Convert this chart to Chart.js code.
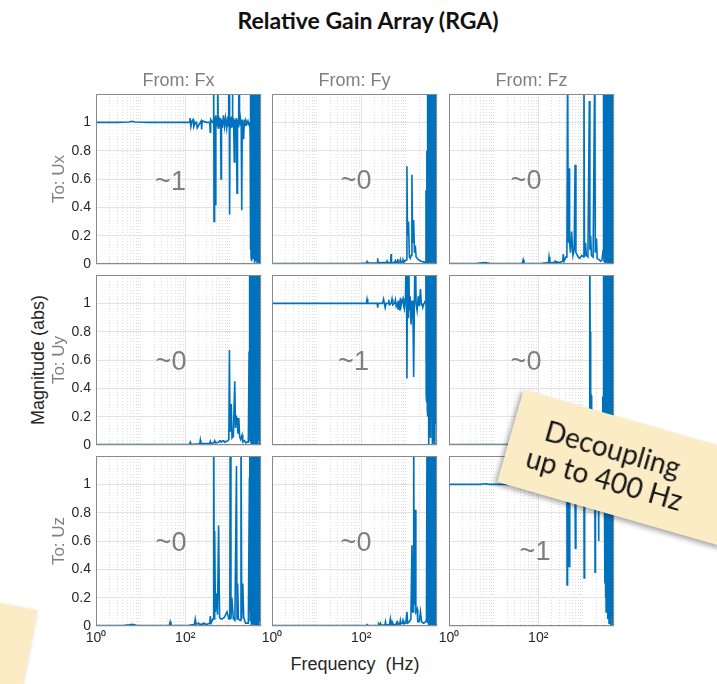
<!DOCTYPE html>
<html>
<head>
<meta charset="utf-8">
<script src="https://cdn.jsdelivr.net/npm/chart.js"></script>
<style>
  html, body { margin: 0; padding: 0; background: #fff; overflow: hidden; }
  #wrap { position: relative; width: 717px; height: 684px; overflow: hidden; background: #fff; }
  #wrap canvas { position: absolute; }
  .txt { position: absolute; text-align: center; white-space: pre; font-family: "Liberation Sans", Arial, sans-serif; }
  .title { left: 118px; width: 500px; top: 6px; font: bold 23px Lato, sans-serif; line-height: 28px; color: #111; }
  .from { top: 70px; width: 120px; font-size: 18px; line-height: 20px; color: #7f7f7f; }
  .to { width: 120px; height: 20px; font-size: 17px; line-height: 20px; color: #7f7f7f; transform: rotate(-90deg); }
  .ylab { left: -62px; top: 350px; width: 200px; height: 20px; font-size: 18px; line-height: 20px; color: #262626; transform: rotate(-90deg); }
  .xlab { left: 255px; width: 200px; top: 654px; font-size: 18px; line-height: 20px; color: #262626; }
  .note { position: absolute; background: #fcecc6; box-shadow: -2px 3px 5px rgba(0,0,0,0.35);
          display: flex; align-items: center; justify-content: center; font-family: Lato, sans-serif; color: #151515; }
</style>
</head>
<body>
<div id="wrap">
  <div class="txt title">Relative Gain Array (RGA)</div>
  <div class="txt ylab">Magnitude (abs)</div>
  <div class="txt xlab">Frequency  (Hz)</div>
</div>
<script>
// frequency (Hz), magnitude pairs
const fxUx = [
  [1,1.0],[3,1.0],[5.5,1.002],[6.4,1.007],[7.5,1.002],[15,1.0],[40,1.0],[100,1.0],[122,1.0],[128,1.03],
  [134,0.97],[142,1.01],[150,1.02],[156,0.97],[170,1.0],[180,1.0],[186,0.96],[228,1.01],[234,0.95],[240,1.01],
  [300,1.0],[355,1.0],[364,0.93],[372,1.02],[410,1.0],[428,1.01],[435,1.5],[442,0.3],[450,1.04],[462,0.97],
  [474,0.42],[486,1.05],[500,0.97],[520,1.03],[535,1.5],[548,0.96],[565,1.04],[590,0.97],[620,1.03],[635,0.6],
  [650,1.02],[680,0.96],[720,1.05],[760,0.97],[800,1.03],[850,0.96],[900,1.04],[940,0.97],[960,1.5],[990,0.35],
  [1010,1.03],[1050,0.96],[1090,1.04],[1120,0.97],[1140,1.5],[1170,0.98],[1210,1.03],[1260,0.72],[1300,1.02],[1350,0.97],
  [1400,1.03],[1450,0.5],[1490,1.02],[1540,0.97],[1580,1.03],[1610,1.5],[1650,0.98],[1720,1.03],[1800,0.97],[1850,0.38],
  [1900,1.02],[1980,0.97],[2040,0.88],[2120,1.02],[2200,0.98],[2300,1.01],[2420,0.99],[2550,1.01],[2700,0.98],[2800,1.0],
  [2860,0.9],[2880,0.1],[2900,1.5],[2930,0.3],[2960,1.5],[2990,0.05],[3020,1.5],[3060,0.2],[3100,1.5],[3140,0.02],
  [3180,1.5],[3230,0.15],[3280,1.5],[3330,0.04],[3380,1.5],[3440,0.1],[3500,1.5],[3560,0.0],[3620,1.5],[3680,0.08],
  [3740,1.5],[3810,0.02],[3880,1.5],[3950,0.12],[4020,1.5],[4100,0.0],[4180,1.5],[4260,0.05],[4340,1.5],[4430,0.0],
  [4520,1.5],[4610,0.06],[4700,1.5],[4800,0.0],[4900,1.5],[5000,0.02]
];
const fyUx = [
  [1,0.004],[20,0.004],[100,0.005],[130,0.006],[135,0.018],[140,0.006],[200,0.006],[228,0.008],[234,0.04],[240,0.008],
  [300,0.01],[370,0.01],[380,0.02],[390,0.008],[455,0.01],[466,0.07],[476,0.01],[560,0.012],[585,0.025],[610,0.01],
  [650,0.015],[660,0.035],[680,0.012],[740,0.015],[755,0.03],[780,0.012],[850,0.015],[865,0.03],[900,0.015],[1040,0.03],
  [1060,0.69],[1090,0.2],[1150,0.3],[1200,0.05],[1260,0.04],[1310,0.06],[1370,0.63],[1420,0.15],[1500,0.31],[1560,0.08],
  [1630,0.13],[1700,0.05],[1790,0.04],[1940,0.03],[2180,0.02],[2500,0.015],[2800,0.01],[2830,0.52],[2900,0.05],[2960,0.8],
  [3000,0.02],[3030,1.5],[3060,0.05],[3100,1.5],[3140,0.01],[3180,1.5],[3230,0.08],[3280,1.5],[3330,0.0],[3380,1.5],
  [3440,0.04],[3500,1.5],[3560,0.01],[3620,1.5],[3690,0.06],[3760,1.5],[3830,0.0],[3900,1.5],[3980,0.03],[4060,1.5],
  [4140,0.0],[4220,1.5],[4310,0.05],[4400,1.5],[4490,0.01],[4580,1.5],[4680,0.0],[4780,1.5],[4890,0.03],[5000,1.5]
];
const fzUx = [
  [1,0.004],[4,0.004],[5.5,0.008],[6.5,0.01],[8,0.005],[30,0.004],[44,0.004],[46,0.03],[48,0.004],[120,0.005],
  [170,0.01],[175,0.05],[182,0.01],[235,0.01],[240,0.02],[255,0.01],[260,0.015],[300,0.01],[355,0.02],[365,0.07],
  [380,0.02],[420,0.05],[440,0.1],[457,1.5],[470,0.15],[490,0.675],[505,0.15],[530,0.08],[560,0.23],[600,0.06],
  [640,0.1],[670,0.7],[700,0.08],[790,0.05],[850,0.04],[950,0.06],[1040,0.05],[1060,1.5],[1090,0.05],[1150,0.15],
  [1200,0.06],[1300,0.05],[1400,1.15],[1440,0.1],[1500,0.2],[1560,0.06],[1700,0.05],[1860,1.5],[1900,0.08],[2030,0.18],
  [2100,0.04],[2300,0.03],[2500,0.02],[2700,0.03],[2850,0.1],[2880,1.5],[2910,0.05],[2950,1.5],[2990,0.02],[3030,1.5],
  [3080,0.1],[3130,1.5],[3180,0.0],[3230,1.5],[3290,0.06],[3350,1.5],[3410,0.01],[3470,1.5],[3540,0.08],[3610,1.5],
  [3680,0.0],[3750,1.5],[3830,0.04],[3910,1.5],[3990,0.0],[4070,1.5],[4160,0.05],[4250,1.5],[4340,0.0],[4440,1.5],
  [4540,0.03],[4640,1.5],[4750,0.0],[4860,1.5],[5000,0.04]
];
const fxUy = [
  [1,0.003],[50,0.003],[100,0.004],[125,0.005],[130,0.02],[135,0.005],[200,0.006],[212,0.01],[218,0.035],[224,0.01],
  [300,0.01],[355,0.01],[366,0.025],[380,0.01],[440,0.015],[458,0.03],[480,0.015],[560,0.02],[600,0.03],[615,0.03],
  [640,0.02],[700,0.03],[730,0.03],[760,0.02],[900,0.03],[950,0.04],[980,0.67],[1010,0.1],[1050,0.2],[1080,0.29],
  [1120,0.05],[1200,0.06],[1290,0.45],[1340,0.12],[1400,0.2],[1450,0.19],[1520,0.08],[1590,0.19],[1660,0.06],[1750,0.04],
  [1880,0.07],[1950,0.02],[2130,0.03],[2300,0.015],[2450,0.02],[2600,0.02],[2700,0.66],[2760,0.1],[2800,1.5],[2840,0.03],
  [2880,1.5],[2920,0.1],[2960,1.5],[3000,0.01],[3050,1.5],[3100,0.06],[3150,1.5],[3200,0.0],[3260,1.5],[3320,0.04],
  [3380,1.5],[3440,0.0],[3510,1.5],[3580,0.07],[3650,1.5],[3720,0.01],[3800,1.5],[3880,0.0],[3960,1.5],[4040,0.05],
  [4130,1.5],[4220,0.0],[4310,1.5],[4410,0.03],[4510,1.5],[4620,0.0],[4730,1.5],[4850,0.02],[5000,1.5]
];
const fyUy = [
  [1,1.0],[20,1.0],[100,1.0],[130,1.0],[135,1.03],[140,1.0],[228,1.0],[234,0.97],[240,1.0],[300,1.0],
  [317,1.03],[330,1.0],[344,0.97],[360,1.0],[400,1.0],[414,1.025],[430,0.99],[470,1.0],[490,1.03],[510,0.99],
  [560,1.0],[585,1.025],[610,0.98],[650,1.0],[670,0.96],[700,1.02],[740,0.95],[755,1.04],[780,0.98],[830,1.02],
  [865,1.035],[900,0.98],[930,0.96],[980,1.02],[1030,1.5],[1060,0.47],[1090,1.5],[1120,0.9],[1150,1.5],[1200,0.95],
  [1250,1.05],[1310,0.85],[1380,1.02],[1440,0.97],[1500,0.48],[1560,1.03],[1630,1.5],[1700,1.0],[1790,0.95],[1900,1.05],
  [2000,0.98],[2130,1.1],[2230,0.99],[2300,1.0],[2400,0.97],[2500,0.99],[2650,1.01],[2780,1.0],[2820,1.5],[2860,0.35],
  [2900,1.5],[2940,0.3],[2980,1.5],[3030,0.25],[3080,1.5],[3130,0.2],[3180,1.5],[3240,0.0],[3300,1.5],[3360,0.15],
  [3420,1.5],[3490,0.1],[3560,1.5],[3630,0.05],[3700,1.5],[3780,0.2],[3860,1.5],[3940,0.0],[4020,1.5],[4110,0.12],
  [4200,1.5],[4290,0.08],[4380,1.5],[4480,0.0],[4580,1.5],[4690,0.15],[4800,1.5],[4900,0.0],[5000,1.2]
];
const fzUy = [
  [1,0.003],[100,0.003],[500,0.004],[1000,0.005],[1300,0.006],[1380,0.01],[1420,0.1],[1440,1.5],[1460,0.8],[1490,0.8],
  [1510,0.35],[1540,0.35],[1560,0.08],[1600,0.02],[1800,0.01],[2200,0.01],[2600,0.02],[2750,0.05],[2800,0.34],[2840,0.1],
  [2880,1.5],[2920,0.05],[2960,1.5],[3000,0.01],[3050,1.5],[3100,0.07],[3150,1.5],[3200,0.0],[3260,1.5],[3320,0.05],
  [3380,1.5],[3440,0.0],[3510,1.5],[3580,0.06],[3650,1.5],[3720,0.0],[3800,1.5],[3880,0.04],[3960,1.5],[4040,0.0],
  [4130,1.5],[4220,0.05],[4310,1.5],[4410,0.0],[4510,1.5],[4620,0.03],[4730,1.5],[4850,0.0],[5000,1.5]
];
const fxUz = [
  [1,0.004],[4,0.004],[5.5,0.008],[6.5,0.012],[8,0.005],[30,0.004],[44,0.004],[46,0.03],[48,0.004],[120,0.005],
  [160,0.01],[168,0.05],[176,0.01],[200,0.02],[210,0.01],[240,0.015],[250,0.01],[260,0.02],[300,0.01],[355,0.02],
  [366,0.07],[380,0.02],[420,0.05],[435,1.5],[450,0.05],[458,0.67],[475,0.1],[500,0.23],[530,0.08],[560,0.71],
  [590,0.06],[630,0.05],[670,0.05],[750,0.06],[865,0.1],[950,0.05],[1000,0.05],[1020,1.5],[1060,0.05],[1110,0.2],
  [1200,0.05],[1300,0.04],[1410,1.13],[1450,0.05],[1500,0.3],[1560,0.05],[1700,0.04],[1780,1.5],[1850,0.05],[1950,0.3],
  [2050,0.06],[2250,0.02],[2450,0.02],[2600,0.02],[2750,1.05],[2790,0.1],[2820,1.5],[2860,0.04],[2900,1.5],[2940,0.1],
  [2980,1.5],[3030,0.0],[3080,1.5],[3130,0.06],[3180,1.5],[3240,0.01],[3300,1.5],[3360,0.08],[3420,1.5],[3490,0.0],
  [3560,1.5],[3630,0.05],[3700,1.5],[3780,0.0],[3860,1.5],[3940,0.04],[4020,1.5],[4110,0.0],[4200,1.5],[4290,0.06],
  [4380,1.5],[4480,0.0],[4580,1.5],[4690,0.03],[4800,1.5],[4900,0.0],[5000,1.5]
];
const fyUz = [
  [1,0.003],[50,0.003],[100,0.004],[130,0.004],[135,0.01],[140,0.004],[240,0.005],[245,0.015],[255,0.005],[270,0.02],
  [280,0.005],[340,0.008],[350,0.03],[360,0.008],[430,0.01],[450,0.05],[470,0.01],[490,0.03],[510,0.01],[600,0.01],
  [635,0.03],[660,0.01],[730,0.015],[755,0.04],[780,0.015],[840,0.02],[865,0.04],[900,0.02],[1000,0.02],[1060,0.1],
  [1100,0.02],[1200,0.03],[1300,0.05],[1370,0.57],[1420,0.1],[1480,0.1],[1500,1.5],[1540,0.2],[1600,0.15],[1630,0.82],
  [1680,0.1],[1790,0.12],[1850,0.03],[2000,0.03],[2130,0.1],[2250,0.03],[2500,0.02],[2800,0.03],[2900,0.05],[2990,1.5],
  [3030,0.02],[3080,1.5],[3130,0.06],[3180,1.5],[3240,0.0],[3300,1.5],[3360,0.04],[3420,1.5],[3490,0.0],[3560,1.5],
  [3630,0.07],[3700,1.5],[3780,0.01],[3860,1.5],[3940,0.0],[4020,1.5],[4110,0.05],[4200,1.5],[4290,0.0],[4380,1.5],
  [4480,0.03],[4580,1.5],[4690,0.0],[4800,1.5],[4900,0.02],[5000,1.5]
];
const fzUz = [
  [1,1.0],[5,1.0],[6.5,1.004],[8,1.0],[50,1.0],[100,1.0],[200,1.0],[300,1.0],[380,1.0],[400,0.99],
  [420,1.01],[440,1.0],[443,0.29],[455,1.5],[470,1.0],[490,0.42],[510,1.03],[560,0.97],[600,1.03],[650,1.5],
  [680,0.55],[700,1.01],[800,0.98],[900,1.02],[1000,0.99],[1050,1.5],[1070,0.34],[1100,1.0],[1250,1.02],[1400,0.98],
  [1600,1.02],[1850,1.5],[1880,0.38],[1920,1.0],[2100,0.98],[2190,1.5],[2250,0.6],[2300,1.02],[2600,0.97],[2900,1.0],
  [3050,0.9],[3100,1.5],[3140,0.3],[3180,1.5],[3230,0.2],[3280,1.5],[3330,0.1],[3390,1.5],[3450,0.15],[3510,1.5],
  [3580,0.05],[3650,1.5],[3720,0.12],[3790,1.5],[3870,0.02],[3950,1.5],[4030,0.08],[4120,1.5],[4210,0.0],[4300,1.5],
  [4400,0.06],[4500,1.5],[4610,0.0],[4720,1.5],[4840,0.02],[5000,1.5]
];

const series = [
  [fxUx, fyUx, fzUx],
  [fxUy, fyUy, fzUy],
  [fxUz, fyUz, fzUz]
];
const fromLabels = ['From: Fx', 'From: Fy', 'From: Fz'];
const toLabels = ['To: Ux', 'To: Uy', 'To: Uz'];
const approxLabels = [['~1', '~0', '~0'], ['~0', '~1', '~0'], ['~0', '~0', '~1']];
const xGridTicks = [1, 2, 3, 4, 5, 6, 7, 8, 9, 10, 20, 30, 40, 50, 60, 70, 80, 90,
  100, 200, 300, 400, 500, 600, 700, 800, 900, 1000, 2000, 3000, 4000, 5000];
const xMajorTicks = [1, 100];
const xTickLabels = { 1: '10\u2070', 100: '10\u00b2' };
const yTicks = [0, 0.2, 0.4, 0.6, 0.8, 1];

// layout of the 3x3 grid (px)
const colLeft = [96, 272, 449];
const rowTop = [94, 275, 456];
const plotW = 165, plotH = 170;
const labelShift = [[[-8, 4], [1.5, 3], [-5.5, 3]], [[-7.5, 3], [-1, 3], [-5.5, 3]], [[-7.5, 3], [1.5, 3], [3.5, 12]]];

const FONT = '"Liberation Sans", Arial, Helvetica, sans-serif';
Chart.defaults.font.family = FONT;

const panelDecor = {
    id: 'panelDecor',
    afterDatasetsDraw(chart, args, opts) {
        const ctx = chart.ctx;
        const a = chart.chartArea;
        ctx.save();
        ctx.font = '27px ' + FONT;
        ctx.fillStyle = '#7f7f7f';
        ctx.textAlign = 'center';
        ctx.textBaseline = 'middle';
        ctx.fillText(opts.text, (a.left + a.right) / 2 + opts.dx, (a.top + a.bottom) / 2 + opts.dy);
        ctx.strokeStyle = '#8a8a8a';
        ctx.lineWidth = 1;
        ctx.strokeRect(Math.round(a.left) + 0.5, Math.round(a.top) + 0.5,
            Math.round(a.right - a.left) - 1, Math.round(a.bottom - a.top) - 1);
        ctx.restore();
    }
};

function makePanel(r, c) {
    const wrap = document.getElementById('wrap');
    const canvas = document.createElement('canvas');
    canvas.width = plotW + 56;
    canvas.height = plotH + 34;
    canvas.style.left = (colLeft[c] - 50) + 'px';
    canvas.style.top = (rowTop[r] - 6) + 'px';
    wrap.appendChild(canvas);

    new Chart(canvas, {
        type: 'line',
        data: {
            datasets: [{
                data: series[r][c].map(p => ({ x: p[0], y: p[1] })),
                borderColor: '#0072BD',
                borderWidth: 1.6,
                pointRadius: 0,
                tension: 0,
                clip: 0
            }]
        },
        options: {
            responsive: false,
            animation: false,
            devicePixelRatio: 1,
            layout: { padding: { top: 6, right: 6, left: 0, bottom: 0 } },
            plugins: {
                legend: { display: false },
                tooltip: { enabled: false },
                panelDecor: { text: approxLabels[r][c], dx: labelShift[r][c][0], dy: labelShift[r][c][1] }
            },
            scales: {
                x: {
                    type: 'logarithmic',
                    min: 1,
                    max: 5000,
                    afterBuildTicks: s => { s.ticks = xGridTicks.map(v => ({ value: v })); },
                    afterFit: s => { s.height = 28; s.paddingLeft = 0; s.paddingRight = 0; },
                    ticks: {
                        display: r === 2,
                        autoSkip: false,
                        maxRotation: 0,
                        minRotation: 0,
                        padding: 4,
                        color: '#262626',
                        font: { size: 14 },
                        callback: v => xTickLabels[v] || ''
                    },
                    grid: {
                        drawTicks: false,
                        lineWidth: 1,
                        color: ctx => (ctx.tick && xMajorTicks.includes(ctx.tick.value)) ? '#e3e3e3' : '#dedede'
                    },
                    border: {
                        display: false,
                        dash: ctx => (ctx.tick && !xMajorTicks.includes(ctx.tick.value)) ? [1, 2] : []
                    }
                },
                y: {
                    min: 0,
                    max: 1.2,
                    afterBuildTicks: s => { s.ticks = yTicks.map(v => ({ value: v })); },
                    afterFit: s => { s.width = 50; s.paddingTop = 0; s.paddingBottom = 0; },
                    ticks: {
                        display: c === 0,
                        padding: 5,
                        color: '#262626',
                        font: { size: 14 },
                        callback: v => String(v)
                    },
                    grid: { drawTicks: false, color: '#e3e3e3', lineWidth: 1 },
                    border: { display: false }
                }
            }
        },
        plugins: [panelDecor]
    });
}

function addText(cls, text, left, top) {
    const d = document.createElement('div');
    d.className = 'txt ' + cls;
    d.textContent = text;
    d.style.left = left + 'px';
    d.style.top = top + 'px';
    document.getElementById('wrap').appendChild(d);
}

function addNote(html, left, top, w, h, angle, fontSize, padRight) {
    const d = document.createElement('div');
    d.className = 'note';
    d.style.left = left + 'px';
    d.style.top = top + 'px';
    d.style.width = w + 'px';
    d.style.height = h + 'px';
    d.style.transform = 'rotate(' + angle + 'deg)';
    d.style.fontSize = fontSize + 'px';
    d.style.lineHeight = (fontSize + 3) + 'px';
    d.style.textAlign = 'center';
    d.style.boxSizing = 'border-box';
    d.style.paddingRight = padRight + 'px';
    d.innerHTML = html;
    document.getElementById('wrap').appendChild(d);
}

function main() {
    for (let r = 0; r < 3; r++) {
        for (let c = 0; c < 3; c++) {
            makePanel(r, c);
        }
    }
    for (let c = 0; c < 3; c++) {
        addText('from', fromLabels[c], colLeft[c] + plotW / 2 - 60, 70);
    }
    for (let r = 0; r < 3; r++) {
        addText('to', toLabels[r], 59 - 60, rowTop[r] + plotH / 2 - 10);
    }
    addNote('', -174, 590, 200, 140, 11, 26, 0);
    addNote('Decoupling<br>up to 400 Hz', 506, 420, 234, 96, 16, 28, 30);
}

main();
</script>
</body>
</html>
